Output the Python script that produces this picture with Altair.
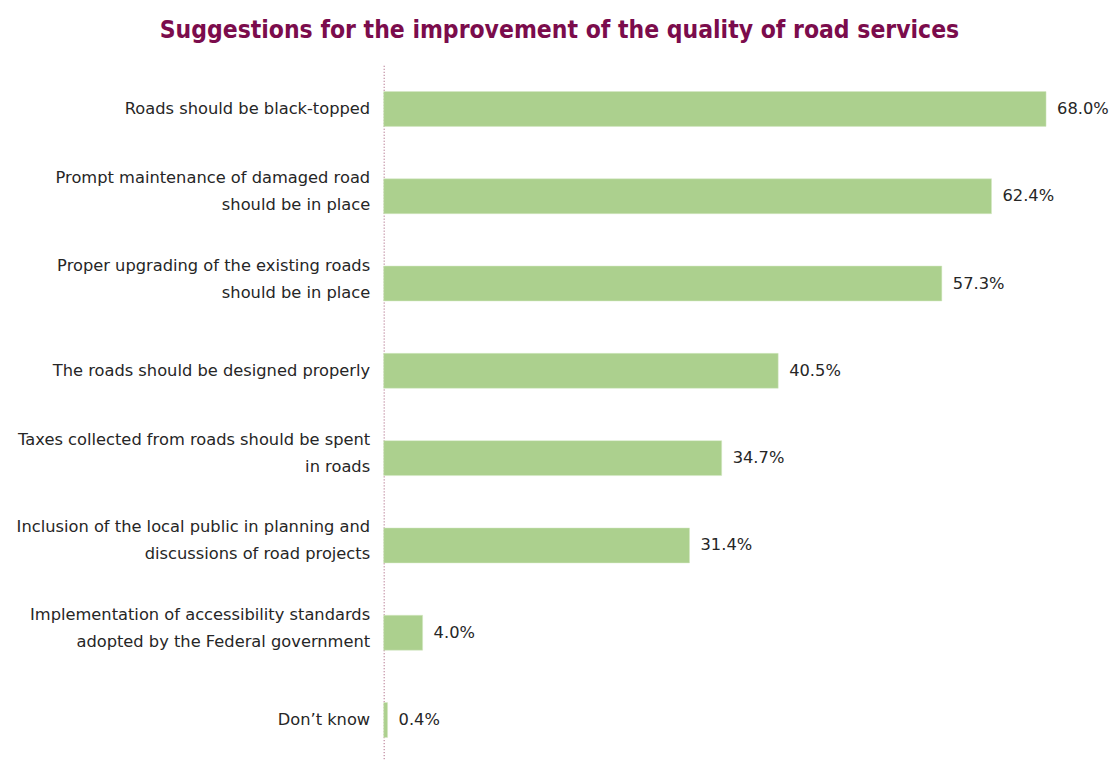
import altair as alt
import pandas as pd

categories = [
    "Roads should be black-topped",
    "Prompt maintenance of damaged road\nshould be in place",
    "Proper upgrading of the existing roads\nshould be in place",
    "The roads should be designed properly",
    "Taxes collected from roads should be spent\nin roads",
    "Inclusion of the local public in planning and\ndiscussions of road projects",
    "Implementation of accessibility standards\nadopted by the Federal government",
    "Don\u2019t know",
]
values = [68.0, 62.4, 57.3, 40.5, 34.7, 31.4, 4.0, 0.4]
value_labels = ["68.0%", "62.4%", "57.3%", "40.5%", "34.7%", "31.4%", "4.0%", "0.4%"]

df = pd.DataFrame({"category": categories, "value": values, "label": value_labels})

FONT = "DejaVu Sans"
WEIGHT = "normal"
TXT = "#262626"
FS = 16.3

y_enc = alt.Y(
    "category:N",
    sort=categories,
    title=None,
    scale=alt.Scale(paddingInner=0.6, paddingOuter=0.3),
    axis=alt.Axis(
        labelExpr="split(datum.label, '\\n')",
        labelFontSize=FS,
        labelFont=FONT,
        labelFontWeight=WEIGHT,
        labelColor=TXT,
        labelLineHeight=27,
        labelOffset={"condition": {"test": "test(/\\n/, datum.value)", "value": -18}, "value": 0},
        labelPadding=14,
        labelLimit=450,
        ticks=False,
        domain=True,
        domainColor="#a05070",
        domainDash=[1, 2],
        domainWidth=1,
        grid=False,
    ),
)
x_enc = alt.X("value:Q", scale=alt.Scale(domain=[0, 68]), axis=None)

bars = alt.Chart(df).mark_bar(color="#acd08e", stroke="#d4e8c4", strokeWidth=0.5).encode(
    x=x_enc, y=y_enc
)
texts = alt.Chart(df).mark_text(
    align="left", baseline="middle", dx=11, fontSize=FS, font=FONT, fontWeight=WEIGHT,
    color=TXT
).encode(x=x_enc, y=alt.Y("category:N", sort=categories), text="label:N")

chart = (
    alt.layer(bars, texts)
    .properties(
        width=663,
        height=699,
        background="white",
        padding={"top": 9, "left": 8, "right": 0, "bottom": 5},
        title=alt.Title(
            "Suggestions for the improvement of the quality of road services",
            font="DejaVu Sans Condensed",
            fontSize=24.5,
            fontWeight="bold",
            color="#7b0c4c",
            anchor="middle",
            frame="bounds",
            offset=22,
            dx=-3,
        ),
    )
    .configure_view(stroke="transparent", strokeWidth=0)
)

chart.save("out.html", embed_options={"renderer": "svg", "actions": False})
